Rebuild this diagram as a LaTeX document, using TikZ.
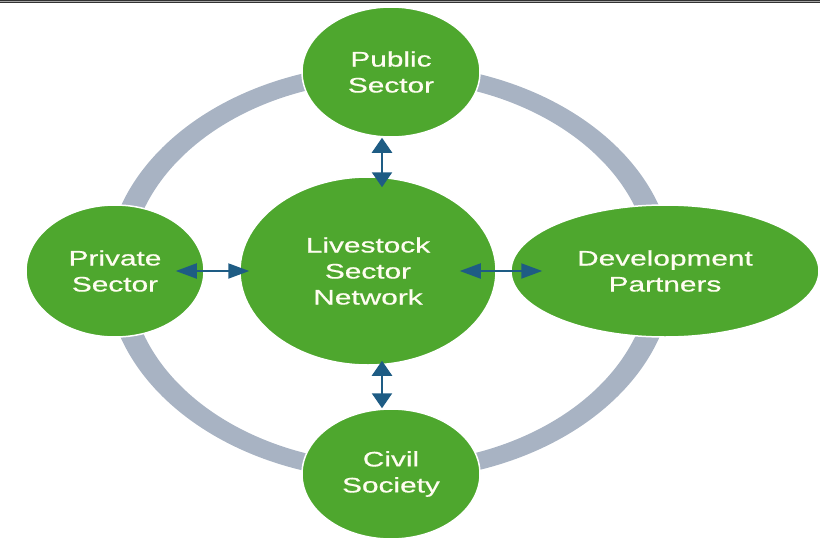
\documentclass[tikz,border=0pt]{standalone}
\usepackage{fontspec}
\newfontfamily\nodefont[FakeStretch=1.42, FakeBold=0.6]{Liberation Sans}
\usepackage{tikz}
\usetikzlibrary{arrows.meta, shapes.geometric}
\usepackage{xcolor}
\definecolor{LeafGreen}{RGB}{78, 167, 46}
\definecolor{RingGray}{RGB}{168, 179, 195}
\definecolor{LinkBlue}{RGB}{30, 92, 132}
\definecolor{RuleGray}{RGB}{50, 50, 50}
\definecolor{CreamText}{RGB}{255, 253, 240}
\tikzset{%
  actor_node/.style={%
    ellipse,%
    fill=LeafGreen,%
    draw=white,%
    line width=1.5pt,%
    inner sep=0pt,%
    text=CreamText,%
    font={\nodefont\fontsize{21}{26}\selectfont},%
    align=center%
  },
  ring_band/.style={%
    fill=RingGray,%
    even odd rule%
  },
  top_rule/.style={%
    draw=RuleGray,%
    line width=1pt,%
    double=black!35,%
    double distance=1pt%
  },
  two_way_h/.style={%
    draw=LinkBlue,%
    line width=2pt,%
    {Triangle[length=21pt, width=15pt]}-{Triangle[length=21pt, width=15pt]}%
  },
  two_way_v/.style={%
    draw=LinkBlue,%
    line width=2.4pt,%
    {Triangle[length=15pt, width=20pt]}-{Triangle[length=15pt, width=20pt]}%
  },
}

\begin{document}
\begin{tikzpicture}[x=1pt, y=-1pt]
    \useasboundingbox (0,0) rectangle (820,538);
    \coordinate (ring_center) at (390,272);
    \fill [ring_band]
      (ring_center) ellipse [x radius=283.6, y radius=208.5]
      (ring_center) ellipse [x radius=260.4, y radius=191.5];

    \node [actor_node, minimum width=256pt, minimum height=188pt] (Hub) at (368,271) {Livestock\\Sector\\Network};
    \node [actor_node, minimum width=178pt, minimum height=130pt] (Public) at (391,72) {Public\\Sector};
    \node [actor_node, minimum width=178pt, minimum height=132pt] (Private) at (115,271) {Private\\Sector};
    \node [actor_node, minimum width=308pt, minimum height=132pt] (Partners) at (665,271) {Development\\Partners};
    \node [actor_node, minimum width=178pt, minimum height=130pt] (Civil) at (391,474) {Civil\\Society};

    \draw [two_way_h]
      ([xshift=-29pt]Private.east) -- ([xshift=10pt]Hub.west);
    \draw [two_way_h]
      ([xshift=-37pt]Hub.east) -- ([xshift=32pt]Partners.west);
    \draw [two_way_v]
      ([xshift=-9pt]Public.south) -- ([xshift=14pt, yshift=-11pt]Hub.north);
    \draw [two_way_v]
      ([xshift=14pt, yshift=5pt]Hub.south) -- ([xshift=-9pt]Civil.north);

    \draw [top_rule] (0,1.5) -- (820,1.5);
  \end{tikzpicture}
\end{document}
